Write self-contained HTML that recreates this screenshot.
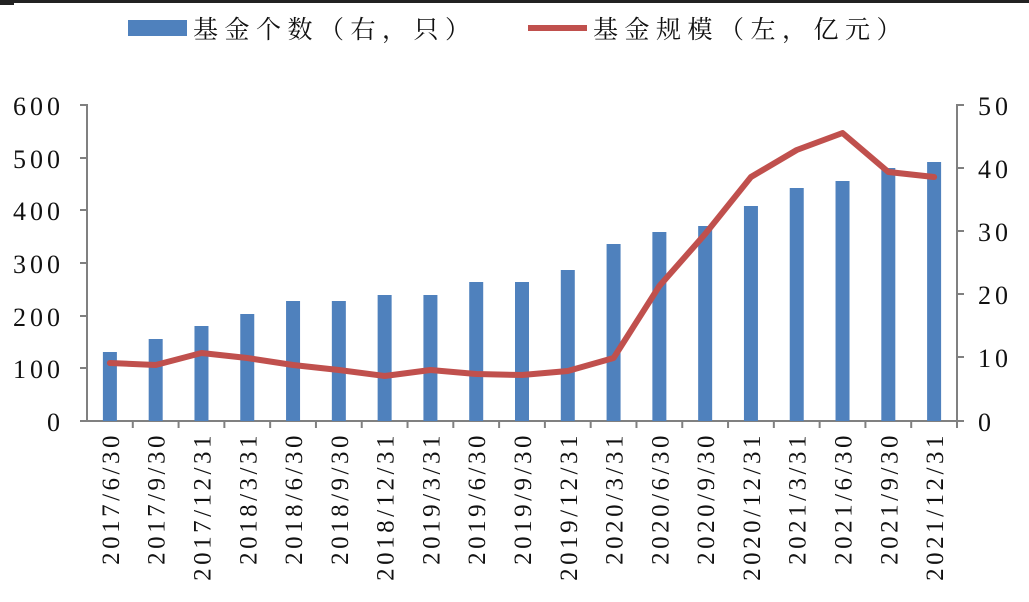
<!DOCTYPE html>
<html><head><meta charset="utf-8"><style>
body{margin:0;background:#fff;}
svg text{font-family:"Liberation Serif","Noto Serif CJK SC",serif;fill:#111;}
</style></head><body>
<svg width="1029" height="597" xmlns="http://www.w3.org/2000/svg">
<rect x="0" y="0" width="1029" height="3" fill="#222"/>
<rect x="0" y="3" width="14" height="2" fill="#222"/>
<rect x="128" y="20" width="59" height="16" fill="#4f81bd"/>
<text x="193" y="38" font-size="25" letter-spacing="6.5">基金个数（右，只）</text>
<line x1="528" y1="28" x2="587" y2="28" stroke="#c0504d" stroke-width="6"/>
<text x="593" y="38" font-size="25" letter-spacing="6.5">基金规模（左，亿元）</text>
<g stroke="#808080" stroke-width="2" fill="none">
<path d="M80 105H87V421M80 158H87M80 210H87M80 263H87M80 316H87M80 368H87M80 421H87"/>
<path d="M964 105H957V421M964 168H957M964 231H957M964 294H957M964 357H957M964 421H957"/>
<line x1="87" y1="421" x2="957" y2="421"/>
<g id="t"></g>
</g>
<g font-size="26" text-anchor="end" letter-spacing="4">
<text x="64" y="115">600</text><text x="64" y="168">500</text><text x="64" y="220">400</text><text x="64" y="273">300</text><text x="64" y="326">200</text><text x="64" y="378">100</text><text x="64" y="431">0</text>
</g>
<g font-size="26" letter-spacing="4">
<text x="978" y="115">50</text><text x="978" y="178">40</text><text x="978" y="241">30</text><text x="978" y="304">20</text><text x="978" y="367">10</text><text x="978" y="431">0</text>
</g>
<g id="bars" fill="#4f81bd"></g>
<polyline id="ln" fill="none" stroke="#c0504d" stroke-width="6" stroke-linejoin="round" stroke-linecap="round"/>
<g id="lab" font-size="25" letter-spacing="3.5"></g>
</svg>
<script>
const labs=["2017/6/30","2017/9/30","2017/12/31","2018/3/31","2018/6/30","2018/9/30","2018/12/31","2019/3/31","2019/6/30","2019/9/30","2019/12/31","2020/3/31","2020/6/30","2020/9/30","2020/12/31","2021/3/31","2021/6/30","2021/9/30","2021/12/31"];
const tops=[352,339,326,314,301,301,295,295,282,282,270,244,232,226,206,188,181,168,162];
const ly=[363,365,353,358,365,370,376,370,374,375,371,358,286,234,177,150,133,172,177];
const ns="http://www.w3.org/2000/svg";
const W=870/19;let pts=[];
const bars=document.getElementById('bars'),lab=document.getElementById('lab'),t=document.getElementById('t');
for(let i=0;i<19;i++){
 const c=87+W*(i+.5);
 const r=document.createElementNS(ns,'rect');r.setAttribute('x',c-7);r.setAttribute('y',tops[i]);r.setAttribute('width',14);r.setAttribute('height',421-tops[i]);bars.appendChild(r);
 pts.push(c+','+ly[i]);
 const tk=document.createElementNS(ns,'line');const tx=87+W*(i+1);tk.setAttribute('x1',tx);tk.setAttribute('x2',tx);tk.setAttribute('y1',421);tk.setAttribute('y2',428);t.appendChild(tk);
 const tt=document.createElementNS(ns,'text');tt.setAttribute('transform',`translate(${c+9},432) rotate(-90)`);tt.setAttribute('text-anchor','end');tt.textContent=labs[i];lab.appendChild(tt);
}
document.getElementById('ln').setAttribute('points',pts.join(' '));
</script>
</body></html>
